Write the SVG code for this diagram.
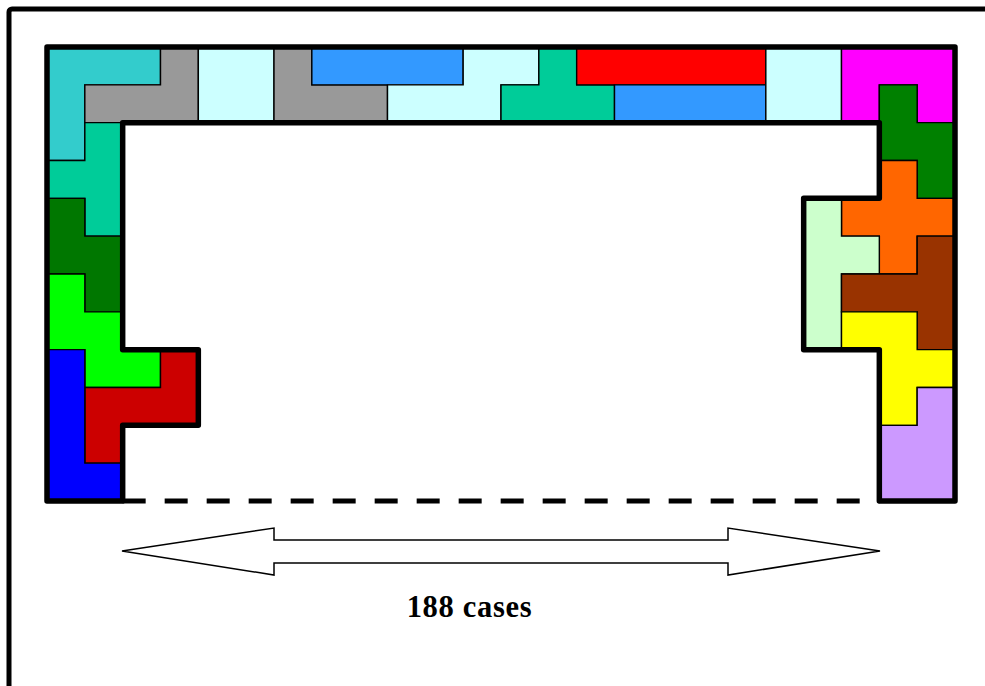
<svg xmlns="http://www.w3.org/2000/svg" width="985" height="686" viewBox="0 0 985 686">
  <style>
    .p { stroke: #000; stroke-width: 1.4; vector-effect: non-scaling-stroke; stroke-linejoin: miter; }
    .bound { fill: none; stroke: #000; stroke-width: 5.5; stroke-linejoin: round; }
    .dash { fill: none; stroke: #000; stroke-width: 5; stroke-dasharray: 23 19; }
    .arrow { fill: #fff; stroke: #000; stroke-width: 1.5; stroke-linejoin: miter; }
    .lbl { font-family: "Liberation Serif", "Times New Roman", serif; font-weight: bold; font-size: 30.5px; letter-spacing: 0.7px; fill: #000; }
  </style>
  <rect x="0" y="0" width="985" height="686" fill="#fff"/>
  <rect id="frame" x="9" y="9" width="1000" height="700" rx="3" fill="none" stroke="#000" stroke-width="5"/>
  <g id="pieces" transform="translate(47 47) scale(37.8333)">
    <g id="top-cyan"><polygon class="p" fill="#33CCCC" points="0,0 3,0 3,1 1,1 1,3 0,3"/></g>
    <g id="top-gray1"><polygon class="p" fill="#999999" points="3,0 4,0 4,2 1,2 1,1 3,1"/></g>
    <g id="top-lightcyan1"><polygon class="p" fill="#CCFFFF" points="4,0 6,0 6,2 4,2"/></g>
    <g id="top-gray2"><polygon class="p" fill="#999999" points="6,0 7,0 7,1 9,1 9,2 6,2"/></g>
    <g id="top-blue1"><polygon class="p" fill="#3399FF" points="7,0 11,0 11,1 7,1"/></g>
    <g id="top-lightcyan2"><polygon class="p" fill="#CCFFFF" points="11,0 13,0 13,1 12,1 12,2 9,2 9,1 11,1"/></g>
    <g id="top-teal"><polygon class="p" fill="#00CC99" points="13,0 14,0 14,1 15,1 15,2 12,2 12,1 13,1"/></g>
    <g id="top-red"><polygon class="p" fill="#FF0000" points="14,0 19,0 19,1 14,1"/></g>
    <g id="top-blue2"><polygon class="p" fill="#3399FF" points="15,1 19,1 19,2 15,2"/></g>
    <g id="top-lightcyan3"><polygon class="p" fill="#CCFFFF" points="19,0 21,0 21,2 19,2"/></g>
    <g id="right-magenta"><polygon class="p" fill="#FF00FF" points="21,0 24,0 24,2 23,2 23,1 22,1 22,2 21,2"/></g>
    <g id="right-green"><polygon class="p" fill="#008000" points="22,1 23,1 23,2 24,2 24,4 23,4 23,3 22,3"/></g>
    <g id="right-orange"><polygon class="p" fill="#FF6600" points="22,3 23,3 23,4 24,4 24,5 23,5 23,6 22,6 22,5 21,5 21,4 22,4"/></g>
    <g id="right-lightgreen"><polygon class="p" fill="#CCFFCC" points="20,4 21,4 21,5 22,5 22,6 21,6 21,8 20,8"/></g>
    <g id="right-brown"><polygon class="p" fill="#993300" points="23,5 24,5 24,8 23,8 23,7 21,7 21,6 23,6"/></g>
    <g id="right-yellow"><polygon class="p" fill="#FFFF00" points="21,7 23,7 23,8 24,8 24,9 23,9 23,10 22,10 22,8 21,8"/></g>
    <g id="right-lavender"><polygon class="p" fill="#CC99FF" points="23,9 24,9 24,12 22,12 22,10 23,10"/></g>
    <g id="left-teal"><polygon class="p" fill="#00CC99" points="1,2 2,2 2,5 1,5 1,4 0,4 0,3 1,3"/></g>
    <g id="left-darkgreen"><polygon class="p" fill="#007700" points="0,4 1,4 1,5 2,5 2,7 1,7 1,6 0,6"/></g>
    <g id="left-green"><polygon class="p" fill="#00FF00" points="0,6 1,6 1,7 2,7 2,8 3,8 3,9 1,9 1,8 0,8"/></g>
    <g id="left-red"><polygon class="p" fill="#CC0000" points="3,8 4,8 4,10 2,10 2,11 1,11 1,9 3,9"/></g>
    <g id="left-blue"><polygon class="p" fill="#0000FF" points="0,8 1,8 1,11 2,11 2,12 0,12"/></g>
  </g>
  <g id="boundary">
    <path class="bound" d="M47,501 L47,47 L955,47 L955,501 L879.33,501 L879.33,349.67 L803.67,349.67 L803.67,198.33 L879.33,198.33 L879.33,122.67 L122.67,122.67 L122.67,349.67 L198.33,349.67 L198.33,425.33 L122.67,425.33 L122.67,501 Z"/>
  </g>
  <g id="connectors">
    <path class="dash" d="M122.67,501 L879.33,501"/>
    <polygon class="arrow" points="122,551 274,528 274,540 728,540 728,528 880,551 728,575 728,563 274,563 274,575"/>
  </g>
  <g id="label">
    <text class="lbl" x="469.5" y="617" text-anchor="middle">188 cases</text>
  </g>
</svg>
